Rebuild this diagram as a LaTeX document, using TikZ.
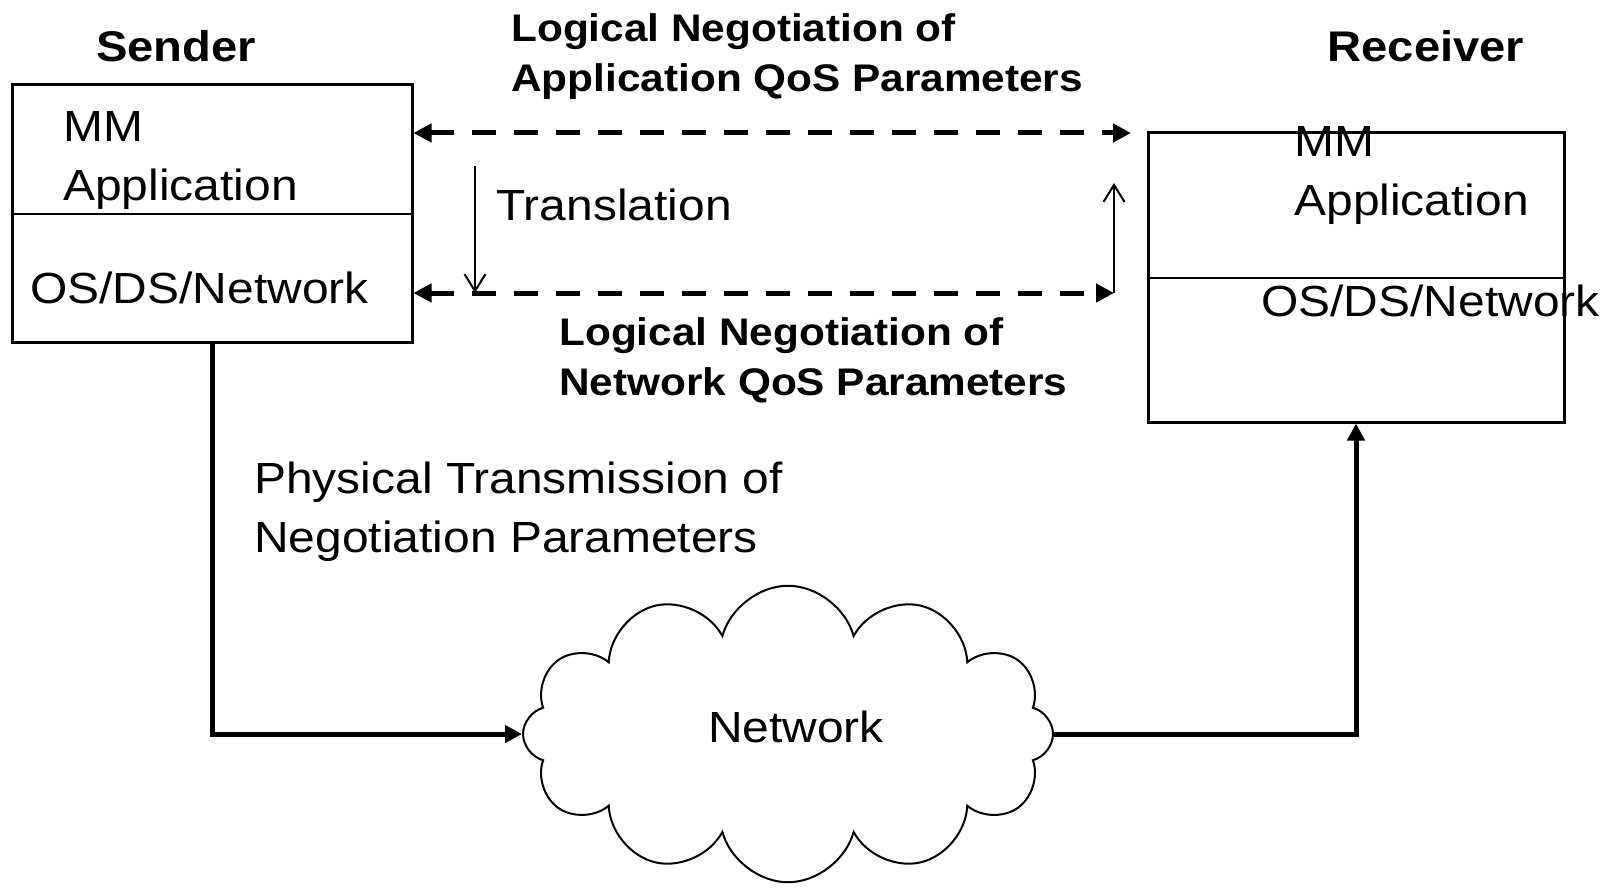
\documentclass[tikz,border=0pt]{standalone}
\usepackage{fontspec}
\setmainfont{Liberation Sans}[FakeStretch=1.1]
\usetikzlibrary{arrows.meta, positioning, shapes.symbols, calc}

\begin{document}
\begin{tikzpicture}[
    box/.style={rectangle, draw=black, line width=0.06cm, inner sep=0pt},
    txt/.style={inner sep=0pt, align=left, font=\fontsize{24.8}{33.6}\selectfont},
    head/.style={inner sep=0pt, font=\fontsize{24.4}{29}\selectfont\bfseries},
    nego/.style={inner sep=0pt, align=left, font=\fontsize{21.9}{28.5}\selectfont\bfseries},
    logic/.style={line width=0.1cm, dash pattern=on 0.48cm off 0.36cm,
      {Triangle[length=0.36cm,width=0.36cm]}-{Triangle[length=0.36cm,width=0.36cm]}},
    phys/.style={line width=0.1cm, -{Triangle[length=0.34cm,width=0.34cm]}},
    trans/.style={line width=0.04cm, -{Straight Barb[length=0.34cm,width=0.42cm]}}
  ]
    \useasboundingbox (0,0) rectangle (32.28,17.74);

    % end systems
    \node[box, minimum width=8.0cm, minimum height=5.14cm] (snd) at (4.24,13.47) {};
    \node[box, minimum width=8.32cm, minimum height=5.78cm] (rcv) at (27.12,12.19) {};
    \draw[line width=0.04cm] (snd.west |- 0,13.46) -- (snd.east |- 0,13.46);
    \draw[line width=0.04cm] (rcv.west |- 0,12.18) -- (rcv.east |- 0,12.18);

    \node[head, anchor=base] (sndlbl) at (3.52,16.51) {Sender};
    \node[head, anchor=base] (rcvlbl) at (28.52,16.51) {Receiver};
    \node[txt, anchor=north west] (sndapp) at (1.26,15.52) {MM\\Application};
    \node[txt, anchor=base west] (sndos) at (0.60,11.68) {OS/DS/Network};
    \node[txt, anchor=north west] (rcvapp) at (25.88,15.22) {MM\\Application};
    \node[txt, anchor=base west] (rcvos) at (25.22,11.41) {OS/DS/Network};

    % network cloud
    \node[cloud, draw, line width=0.04cm, cloud puffs=12, aspect=1.77,
      minimum width=10.6cm, minimum height=5.93cm, inner sep=0pt,
      label={[txt, xshift=0.16cm, yshift=0.14cm]center:Network}] (net) at (15.76,3.06) {};

    % logical negotiation
    \coordinate (appR) at (22.62,15.08);
    \coordinate (netR) at (22.28,11.88);
    \coordinate (upT) at (22.28,14.08);
    \coordinate (trT) at (9.50,14.42);
    \coordinate (trB) at (9.50,11.88);
    \draw[logic] (snd.east |- appR) -- (appR);
    \draw[logic] (snd.east |- netR) -- (netR);
    \draw[trans] (trT) -- (trB);
    \draw[trans] (netR) -- (upT);
    \node[txt, anchor=base west] (trlbl) at (9.92,13.34) {Translation};
    \node[nego, anchor=north west] (applbl) at (10.22,17.47) {Logical Negotiation of\\Application QoS Parameters};
    \node[nego, anchor=north west] (netlbl) at (11.18,11.40) {Logical Negotiation of\\Network QoS Parameters};

    % physical path
    \draw[phys] (snd.south) |- (net.west);
    \draw[phys] (net.east) -| (rcv.south);
    \node[txt, anchor=north west] (phylbl) at (5.08,8.50) {Physical Transmission of\\Negotiation Parameters};
\end{tikzpicture}
\end{document}
